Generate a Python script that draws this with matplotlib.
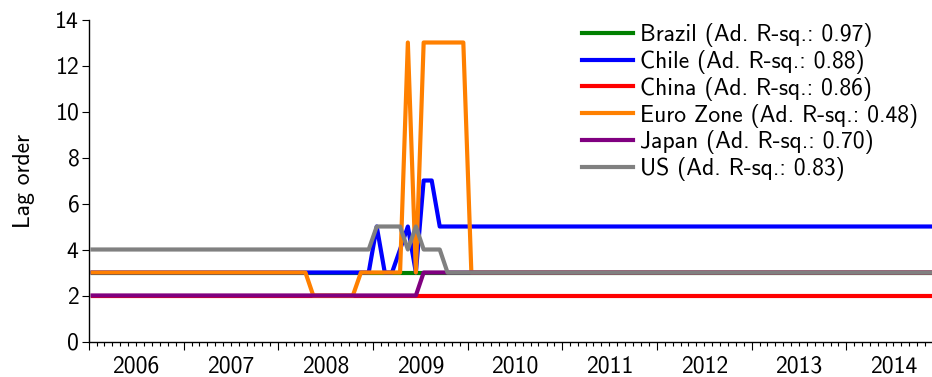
import numpy as np
import pandas as pd
import matplotlib
matplotlib.use("Agg")
import matplotlib.pyplot as plt
import matplotlib.dates as mdates

plt.rcParams["font.family"] = ["cmss10", "DejaVu Sans"]
plt.rcParams["axes.formatter.use_mathtext"] = True
plt.rcParams["font.size"] = 17

# monthly lag order selected for each model, Jan 2006 - Dec 2014,
# stored as (value, number of months) runs
brazil_vals, brazil_len = [3], [108]
chile_vals, chile_len = [3, 5, 3, 4, 5, 3, 7, 5], [36, 1, 2, 1, 1, 1, 2, 64]
china_vals, china_len = [2], [108]
euro_vals, euro_len = [3, 2, 3, 13, 3, 13, 3], [28, 6, 6, 1, 1, 6, 60]
japan_vals, japan_len = [2, 3], [42, 66]
us_vals, us_len = [4, 5, 4, 5, 4, 3], [36, 4, 1, 1, 3, 63]

labels = ["Brazil (Ad. R-sq.: 0.97)", "Chile (Ad. R-sq.: 0.88)",
          "China (Ad. R-sq.: 0.86)", "Euro Zone (Ad. R-sq.: 0.48)",
          "Japan (Ad. R-sq.: 0.70)", "US (Ad. R-sq.: 0.83)"]
colors = ["#008000", "#0000ff", "#ff0000", "#ff8000", "#800080", "#808080"]
years = list(range(2006, 2015))

series = [np.repeat(brazil_vals, brazil_len), np.repeat(chile_vals, chile_len),
          np.repeat(china_vals, china_len), np.repeat(euro_vals, euro_len),
          np.repeat(japan_vals, japan_len), np.repeat(us_vals, us_len)]
dates = pd.date_range("2006-01-01", periods=108, freq="MS") + pd.Timedelta(days=14)

fig = plt.figure(figsize=(9.32, 3.77), dpi=100)
ax = fig.add_axes([89 / 932, 35.5 / 377, 1 - 89 / 932, 322 / 377])

for y, c, lab in zip(series, colors, labels):
    ax.plot(dates, y, color=c, lw=3, label=lab)

ax.set_ylim(0, 14)
ax.set_yticks(range(0, 15, 2))
ax.set_xlim(pd.Timestamp("2006-01-01"), pd.Timestamp("2014-11-27"))
ax.set_ylabel("Lag order", labelpad=14)

ax.spines["top"].set_visible(False)
ax.spines["right"].set_visible(False)
ax.spines["left"].set_linewidth(1.0)
ax.spines["bottom"].set_linewidth(1.0)

ax.xaxis.set_major_locator(mdates.YearLocator())
ax.xaxis.set_minor_locator(mdates.MonthLocator())
ax.xaxis.set_major_formatter(plt.NullFormatter())
ax.tick_params(axis="x", which="major", direction="out", length=5.5, width=0.8)
ax.tick_params(axis="x", which="minor", direction="out", length=2.8, width=0.8)
ax.tick_params(axis="y", direction="out", length=5, width=0.8, pad=2)

# year names sit in the middle of each year
sec = ax.secondary_xaxis("bottom")
mid_year = [mdates.date2num(pd.Timestamp(f"{yr}-07-02")) for yr in years]
sec.set_xticks(mid_year, [str(yr) for yr in years])
sec.tick_params(length=0, pad=10)
sec.spines["bottom"].set_visible(False)

ax.legend(loc="upper left", bbox_to_anchor=(582 / 932, 1 - 23 / 377),
          bbox_transform=fig.transFigure, frameon=False, borderpad=0,
          handlelength=2.15, handletextpad=0.3, labelspacing=0.12,
          borderaxespad=0)

fig.savefig("out.png", dpi=100)
